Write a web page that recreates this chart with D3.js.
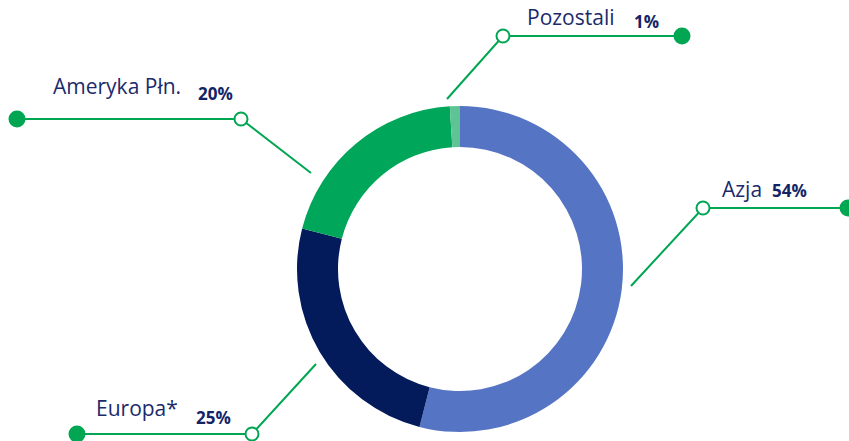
<!DOCTYPE html>
<html>
<head>
<meta charset="utf-8">
<script src="https://d3js.org/d3.v7.min.js"></script>
<style>
  body { margin: 0; background: #fff; }
  svg { display: block; }
</style>
</head>
<body>
<svg id="svg" width="849" height="441"></svg>
<script>
// data
var categories = ["Azja", "Europa*", "Ameryka Płn.", "Pozostali"];
var shares = [54, 25, 20, 1];
var shareLabels = ["54%", "25%", "20%", "1%"];
var colors = ["#5574c4", "#031a5b", "#00a65a", "#5ec495"];

// label layout (leader start, open dot, end dot, name pos, pct pos)
var layout = {
  "Azja":        { from: [631, 286], knee: [703, 208], end: [848, 208], name: [722, 197], pct: [772, 197] },
  "Europa*":     { from: [316, 364], knee: [252, 434], end: [77, 434],  name: [96, 416],  pct: [196, 424] },
  "Ameryka Płn.":{ from: [311, 173], knee: [241, 119], end: [17, 119],  name: [53, 94],   pct: [198, 100] },
  "Pozostali":   { from: [447, 99],  knee: [503, 36],  end: [682, 36],  name: [527, 25],  pct: [634, 28] }
};

var svg = d3.select("#svg");
var cx = 460, cy = 269;

var pie = d3.pie().sort(null).value(function(d) { return d.v; });
var arc = d3.arc().innerRadius(122).outerRadius(163);

var rows = categories.map(function(c, i) { return { c: c, v: shares[i], col: colors[i], lab: shareLabels[i] }; });

svg.append("g")
  .attr("transform", "translate(" + cx + "," + cy + ")")
  .selectAll("path")
  .data(pie(rows))
  .enter()
  .append("path")
    .attr("d", arc)
    .attr("fill", function(d) { return d.data.col; });

var lineColor = "#00a651";

var lab = svg.append("g").selectAll("g")
  .data(rows)
  .enter()
  .append("g");

lab.append("polyline")
  .attr("points", function(d) {
    var l = layout[d.c];
    return [l.from, l.knee, l.end].map(function(p) { return p.join(","); }).join(" ");
  })
  .attr("fill", "none")
  .attr("stroke", lineColor)
  .attr("stroke-width", 2);

lab.append("circle")
  .attr("cx", function(d) { return layout[d.c].end[0]; })
  .attr("cy", function(d) { return layout[d.c].end[1]; })
  .attr("r", 8.5)
  .attr("fill", lineColor);

lab.append("circle")
  .attr("cx", function(d) { return layout[d.c].knee[0]; })
  .attr("cy", function(d) { return layout[d.c].knee[1]; })
  .attr("r", 6.5)
  .attr("fill", "#fff")
  .attr("stroke", lineColor)
  .attr("stroke-width", 2);

lab.append("text")
  .attr("x", function(d) { return layout[d.c].name[0]; })
  .attr("y", function(d) { return layout[d.c].name[1]; })
  .attr("font-family", "'Open Sans', sans-serif")
  .attr("font-size", 21)
  .attr("fill", "#1b2a6b")
  .text(function(d) { return d.c; });

lab.append("text")
  .attr("x", function(d) { return layout[d.c].pct[0]; })
  .attr("y", function(d) { return layout[d.c].pct[1]; })
  .attr("font-family", "'Open Sans', sans-serif")
  .attr("font-weight", "bold")
  .attr("font-size", 17)
  .attr("fill", "#132466")
  .text(function(d) { return d.lab; });
</script>
</body>
</html>
